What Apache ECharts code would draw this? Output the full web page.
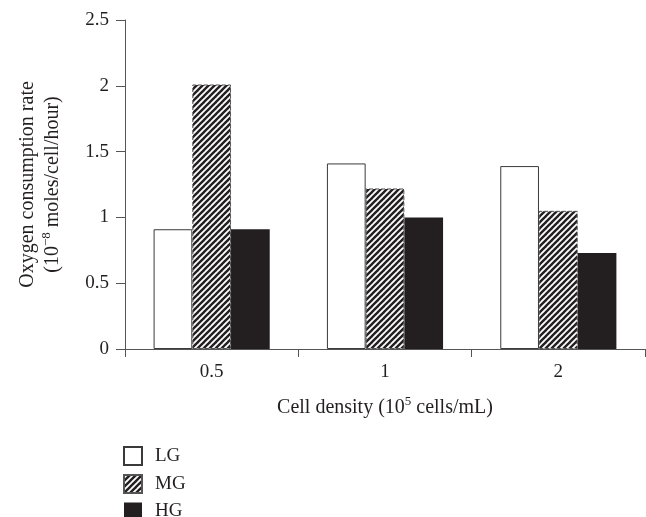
<!DOCTYPE html>
<html><head><meta charset="utf-8">
<script src="https://cdn.jsdelivr.net/npm/echarts@6/dist/echarts.min.js"></script>
<style>html,body{margin:0;padding:0;background:#fff}#c{width:646px;height:517px}</style>
</head><body><div id="c"></div>
<script>
const categories = ['0.5', '1', '2'];
const seriesNames = ['LG', 'MG', 'HG'];
const lgValues = [0.91, 1.41, 1.39];
const mgValues = [2.01, 1.22, 1.05];
const hgValues = [0.91, 1.00, 0.73];
const yTicks = [0, 0.5, 1, 1.5, 2, 2.5];

function hatch() {
  const s = 6;
  const cv = document.createElement('canvas');
  cv.width = s; cv.height = s;
  const ctx = cv.getContext('2d');
  ctx.fillStyle = '#ffffff';
  ctx.fillRect(0, 0, s, s);
  ctx.strokeStyle = '#231f20';
  ctx.lineWidth = 2.4;
  [-s, 0, s].forEach(o => {
    ctx.beginPath();
    ctx.moveTo(o - 1, s + 1);
    ctx.lineTo(o + s + 1, -1);
    ctx.stroke();
  });
  return { image: cv, repeat: 'repeat' };
}

const font = 'Liberation Serif';
const txt = '#231f20';
const chart = echarts.init(document.getElementById('c'), null, { renderer: 'canvas' });
chart.setOption({
  animation: false,
  backgroundColor: '#fff',
  textStyle: { fontFamily: font, color: txt },
  grid: { left: 125, right: 1, top: 20, bottom: 168, containLabel: false },
  legend: {
    orient: 'vertical', left: 123, top: 446, padding: 0, height: 100,
    itemWidth: 18, itemHeight: 18, itemGap: 8,
    icon: 'rect',
    textStyle: { fontFamily: font, fontSize: 19, lineHeight: 18, color: txt, padding: [0, 0, 0, 8] },
    data: seriesNames
  },
  xAxis: {
    type: 'category', data: categories,
    axisLine: { lineStyle: { color: '#555', width: 1 } },
    axisTick: { show: true, length: 8, lineStyle: { color: '#555' } },
    axisLabel: { fontFamily: font, fontSize: 19, color: txt, margin: 14 },
    name: '{b|Cell density (10}{sup|5}{b| cells/mL)}',
    nameLocation: 'middle', nameGap: 46,
    nameTextStyle: {
      rich: {
        b: { fontFamily: font, fontSize: 20, color: txt, lineHeight: 25 },
        sup: { fontFamily: font, fontSize: 13, color: txt, verticalAlign: 'top', lineHeight: 25 }
      }
    }
  },
  yAxis: {
    type: 'value', min: 0, max: 2.5, interval: 0.5,
    splitLine: { show: false },
    axisLine: { show: true, lineStyle: { color: '#555', width: 1 } },
    axisTick: { show: true, length: 9, lineStyle: { color: '#555' } },
    axisLabel: { fontFamily: font, fontSize: 19, color: txt, margin: 16,
      formatter: v => yTicks.includes(v) ? String(v) : '' },
    name: '{b|Oxygen consumption rate}\n{b|(10}{sup|−8}{b| moles/cell/hour)}',
    nameLocation: 'middle', nameRotate: 90, nameGap: 60,
    nameTextStyle: {
      align: 'center',
      rich: {
        b: { fontFamily: font, fontSize: 20, color: txt, lineHeight: 25 },
        sup: { fontFamily: font, fontSize: 13, color: txt, verticalAlign: 'top', lineHeight: 25 }
      }
    }
  },
  series: [
    { name: 'LG', type: 'bar', data: lgValues, barGap: '0%', barCategoryGap: '33%',
      itemStyle: { color: '#ffffff', borderColor: '#3a3a3a', borderWidth: 1 } },
    { name: 'MG', type: 'bar', data: mgValues, barGap: '0%', barCategoryGap: '33%',
      itemStyle: { color: hatch(), borderColor: '#555', borderWidth: 1, borderType: 'dashed' } },
    { name: 'HG', type: 'bar', data: hgValues, barGap: '0%', barCategoryGap: '33%',
      itemStyle: { color: '#231f20', borderColor: '#231f20', borderWidth: 0 } }
  ]
});
</script></body></html>
